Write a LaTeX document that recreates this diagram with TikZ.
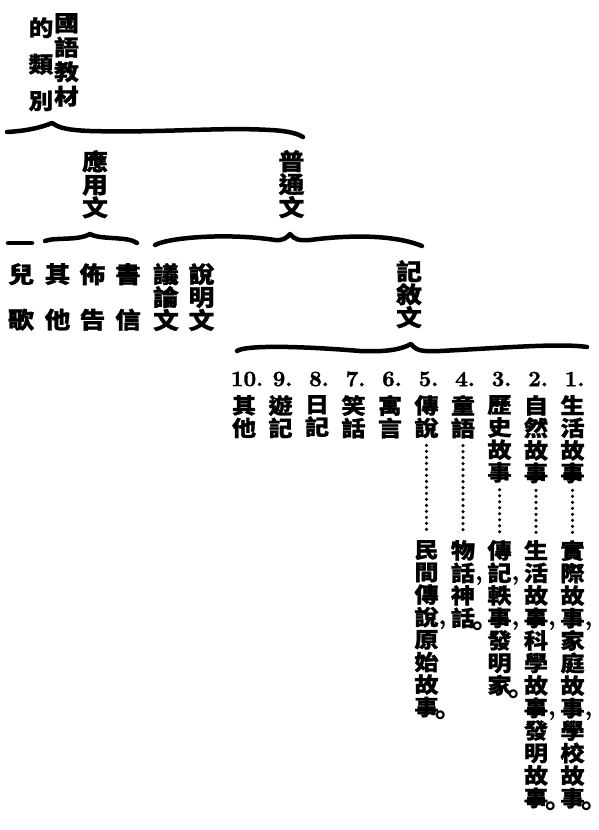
\documentclass[tikz,border=0pt]{standalone}
\usepackage{fontspec}
\newfontfamily\cjk{Noto Sans CJK TC}[FakeStretch=1.12, BoldFeatures={FakeBold=1.2}]
\newfontfamily\cjkdot{Noto Sans CJK SC}
\newfontfamily\numfont{lmroman10-bold.otf}[FakeBold=1.5]
\newcommand{\pcomma}{\rlap{\raisebox{1pt}{\numfont\fontsize{24}{24}\selectfont,}}}
\newcommand{\pstop}{\rlap{\hspace{-3pt}\raisebox{-2.5pt}{\cjkdot\bfseries\fontsize{27}{27}\selectfont 。}}}
\begin{document}
\begin{tikzpicture}[x=1pt,y=-1pt,
    head/.style={font=\cjk\bfseries\fontsize{22}{24.5}\selectfont, align=center, inner sep=0pt, anchor=north},
    mid/.style={font=\cjk\bfseries\fontsize{23}{23}\selectfont, align=center, inner sep=0pt, anchor=north},
    item/.style={font=\cjk\bfseries\fontsize{21.5}{22.5}\selectfont, align=center, inner sep=0pt, anchor=north},
    num/.style={font=\numfont\fontsize{22}{22}\selectfont, inner sep=0pt},
    brace/.style={line width=4.5pt, line cap=round, line join=round},
    leader/.style={line width=3.5pt, line cap=round, dash pattern=on 0pt off 6pt, shorten <=7pt, shorten >=6pt}]
    \useasboundingbox (0,0) rectangle (599,830);
    % title
    \node[head] (title) at (66.5,13) {國\\語\\教\\材};
    \node[head, font=\cjk\bfseries\fontsize{22}{36.5}\selectfont] (titleb) at (41,17) {的\\類\\別};
    \draw[brace] (7,132) .. controls (25,131) and (40,128) .. (52,123)
        .. controls (58,127) and (64,130) .. (90,131)
        .. controls (160,133) and (220,127) .. (270,130)
        .. controls (290,131) and (298,134) .. (303,137);
    % second level
    \node[mid] (yingyong) at (95,150) {應\\用\\文};
    \node[mid] (putong) at (291.5,150) {普\\通\\文};
    \draw[brace] (8,243) -- (32,243);
    \draw[brace] (45,241) .. controls (55,237) and (78,241) .. (90,234)
        .. controls (100,240) and (128,236) .. (137,243);
    \draw[brace] (155,245) .. controls (170,237) and (230,233) .. (275,240)
        .. controls (282,241) and (287,238) .. (290,234)
        .. controls (294,239) and (298,241) .. (310,240)
        .. controls (340,236) and (390,233) .. (422,246);
    % third level
    \node[mid] (erge) at (21,263) {兒\\[22.5pt]歌};
    \node[mid] (qita) at (57.5,263) {其\\[22.5pt]他};
    \node[mid] (bugao) at (92.5,263) {佈\\[22.5pt]告};
    \node[mid] (shuxin) at (128,263) {書\\[22.5pt]信};
    \node[mid] (yilun) at (166,263) {議\\論\\文};
    \node[mid] (shuoming) at (201.5,263) {說\\明\\文};
    \node[mid] (jixu) at (409,260) {記\\敘\\文};
    \draw[brace] (237,351) .. controls (245,345) and (300,346) .. (360,351)
        .. controls (385,352) and (400,350) .. (411,344)
        .. controls (416,350) and (420,352) .. (440,351)
        .. controls (500,348) and (560,343) .. (587,347);
    % kinds of narrative
    \node[num] (n1) at (574.5,379) {1.};
    \node[item] (i1) at (572.5,395) {生\\活\\故\\事};
    \node[num] (n2) at (538,379) {2.};
    \node[item] (i2) at (536,395) {自\\然\\故\\事};
    \node[num] (n3) at (501.5,379) {3.};
    \node[item] (i3) at (499.5,395) {歷\\史\\故\\事};
    \node[num] (n4) at (465,379) {4.};
    \node[item] (i4) at (463,395) {童\\語};
    \node[num] (n5) at (428.5,379) {5.};
    \node[item] (i5) at (426.5,395) {傳\\說};
    \node[num] (n6) at (392,379) {6.};
    \node[item] (i6) at (390,395) {寓\\言};
    \node[num] (n7) at (355.5,379) {7.};
    \node[item] (i7) at (353.5,395) {笑\\話};
    \node[num] (n8) at (319,379) {8.};
    \node[item] (i8) at (317,395) {日\\記};
    \node[num] (n9) at (282.5,379) {9.};
    \node[item] (i9) at (280.5,395) {遊\\記};
    \node[num] (n10) at (247,379) {10.};
    \node[item] (i10) at (244,395) {其\\他};
    % examples
    \node[item] (d1) at (572.5,540) {實\\際\\故\\事\pcomma\\家\\庭\\故\\事\pcomma\\學\\校\\故\\事\pstop};
    \node[item] (d2) at (536,540) {生\\活\\故\\事\pcomma\\科\\學\\故\\事\pcomma\\發\\明\\故\\事\pstop};
    \node[item] (d3) at (499.5,540) {傳\\記\pcomma\\軼\\事\pcomma\\發\\明\\家\pstop};
    \node[item] (d4) at (463,540) {物\\話\pcomma\\神\\話\pstop};
    \node[item] (d5) at (426.5,540) {民\\間\\傳\\說\pcomma\\原\\始\\故\\事\pstop};
    \draw[leader] (i1.south) -- (d1.north);
    \draw[leader] (i2.south) -- (d2.north);
    \draw[leader] (i3.south) -- (d3.north);
    \draw[leader] (i4.south) -- (d4.north);
    \draw[leader] (i5.south) -- (d5.north);
\end{tikzpicture}
\end{document}
